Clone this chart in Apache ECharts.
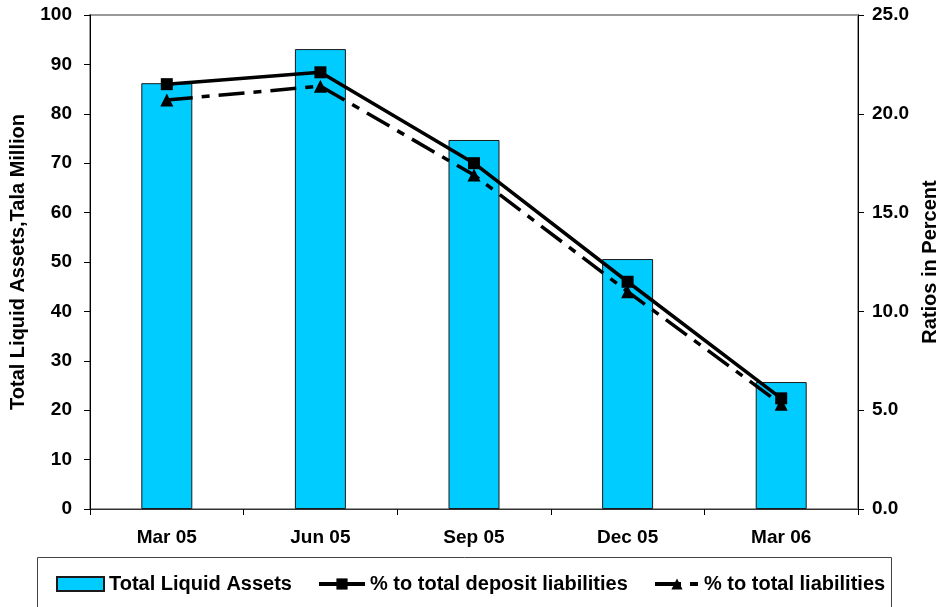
<!DOCTYPE html>
<html>
<head>
<meta charset="utf-8">
<script src="https://cdn.jsdelivr.net/npm/echarts@6/dist/echarts.min.js"></script>
<style>
  html, body { margin: 0; padding: 0; background: #fff; }
  #chart { width: 940px; height: 607px; }
</style>
</head>
<body>
<div id="chart"></div>
<script>
// Quarterly liquid assets (Tala million) and liquidity ratios (%)
var categories = ['Mar 05', 'Jun 05', 'Sep 05', 'Dec 05', 'Mar 06'];
var liquidAssets = [86.2, 93.1, 74.7, 50.6, 25.7];
var pctDepositLiabilities = [21.5, 22.1, 17.5, 11.5, 5.6];
var pctTotalLiabilities = [20.7, 21.4, 16.9, 11.0, 5.3];

var FONT = 'Liberation Sans, Arial, sans-serif';
var labelStyle = { fontFamily: FONT, fontWeight: 'bold', fontSize: 19, color: '#000' };
var nameStyle = { fontFamily: FONT, fontWeight: 'bold', fontSize: 20, color: '#000' };
var legendText = { fontFamily: FONT, fontWeight: 'bold', fontSize: 20, color: '#000' };

function legendEntry(name, left, width, icon) {
  var item = { name: name };
  if (icon) item.icon = icon;
  return {
    left: left, top: 569,
    itemWidth: width, itemHeight: 14,
    textStyle: legendText,
    lineStyle: { width: 4 },
    data: [item]
  };
}

var chart = echarts.init(document.getElementById('chart'), null, { renderer: 'canvas' });

chart.setOption({
  backgroundColor: '#fff',
  animation: false,
  grid: {
    left: 90, right: 82, top: 15, bottom: 98,
    containLabel: false,
    outerBoundsMode: 'none',
    show: true, borderColor: '#999', borderWidth: 2, backgroundColor: 'transparent'
  },
  graphic: [{
    type: 'rect',
    shape: { x: 37.5, y: 557.5, width: 854, height: 60 },
    style: { fill: '#fff', stroke: '#444', lineWidth: 1 },
    z: 0
  }],
  legend: [
    legendEntry('Total Liquid Assets', 51, 47, 'rect'),
    legendEntry('% to total deposit liabilities', 312, 46),
    legendEntry('% to total liabilities', 648, 44)
  ],
  xAxis: {
    type: 'category',
    data: categories,
    axisLine: { lineStyle: { color: '#333', width: 1 } },
    axisTick: { show: true, length: 6, lineStyle: { color: '#000' } },
    axisLabel: Object.assign({ margin: 19 }, labelStyle),
    splitLine: { show: false }
  },
  yAxis: [{
    type: 'value',
    min: 0, max: 100, interval: 10,
    position: 'left',
    name: 'Total Liquid Assets,Tala Million',
    nameLocation: 'middle',
    nameRotate: 90,
    nameGap: 62,
    nameTextStyle: nameStyle,
    axisLine: { show: true, lineStyle: { color: '#000', width: 1 } },
    axisTick: { show: true, length: 6, lineStyle: { color: '#000' } },
    axisLabel: Object.assign({ margin: 18 }, labelStyle),
    splitLine: { show: false }
  }, {
    type: 'value',
    min: 0, max: 25, interval: 5,
    position: 'right',
    name: 'Ratios in Percent',
    nameLocation: 'middle',
    nameRotate: 90,
    nameGap: 62,
    nameTextStyle: nameStyle,
    axisLine: { show: true, lineStyle: { color: '#000', width: 1 } },
    axisTick: { show: true, length: 6, lineStyle: { color: '#000' } },
    axisLabel: Object.assign({
      margin: 14,
      formatter: function (v) { return v.toFixed(1); }
    }, labelStyle),
    splitLine: { show: false }
  }],
  series: [{
    name: 'Total Liquid Assets',
    type: 'bar',
    yAxisIndex: 0,
    data: liquidAssets,
    barWidth: 51,
    itemStyle: { color: '#00CCFF', borderColor: '#1a1a1a', borderWidth: 1 },
    z: 2
  }, {
    name: '% to total deposit liabilities',
    type: 'line',
    yAxisIndex: 1,
    data: pctDepositLiabilities,
    symbol: 'rect',
    symbolSize: 12,
    lineStyle: { color: '#000', width: 3.5, type: 'solid' },
    itemStyle: { color: '#000' },
    z: 4
  }, {
    name: '% to total liabilities',
    type: 'line',
    yAxisIndex: 1,
    data: pctTotalLiabilities,
    symbol: 'triangle',
    symbolSize: 13,
    lineStyle: { color: '#000', width: 3.5, type: [26, 9, 8, 9] },
    itemStyle: { color: '#000' },
    z: 3
  }]
});
</script>
</body>
</html>
